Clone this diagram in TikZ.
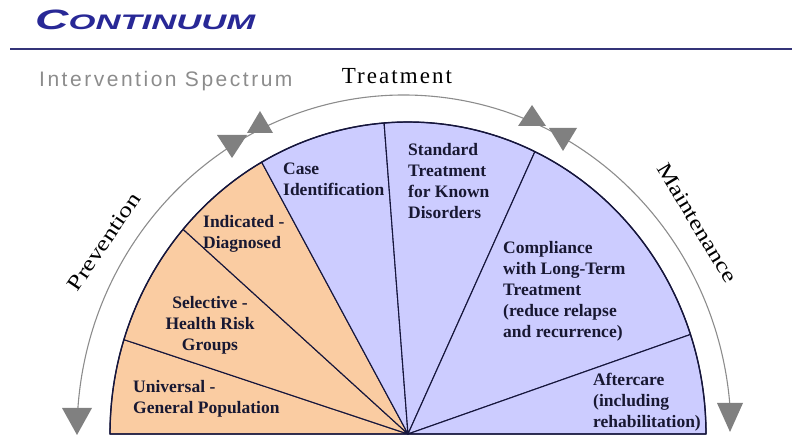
\documentclass[tikz,border=0pt]{standalone}
\usepackage{fontspec}
\setmainfont{Liberation Serif}
\newfontfamily\sansf{Liberation Sans}
\newfontfamily\sansspaced[LetterSpace=12]{Liberation Sans}
\newfontfamily\serifspaced[LetterSpace=9]{Liberation Serif}
\definecolor{orng}{RGB}{250,204,162}
\definecolor{lav}{RGB}{204,204,255}
\definecolor{outl}{RGB}{22,22,60}
\definecolor{arcgray}{RGB}{140,140,140}
\definecolor{trigray}{RGB}{128,128,128}
\definecolor{titleblue}{RGB}{40,40,150}
\definecolor{rulenavy}{RGB}{52,52,120}
\definecolor{labtext}{RGB}{24,24,50}
\begin{document}
\begin{tikzpicture}[x=1pt,y=1pt,
  sector/.style={draw=outl, line width=1.1pt, line join=round},
  grayarc/.style={draw=arcgray, line width=1.1pt},
  tri/.style={fill=trigray},
  lab/.style={inner sep=0pt, anchor=north west, align=left, text=labtext,
    font=\fontsize{17.5}{21}\selectfont\bfseries},
  arclab/.style={inner sep=0pt, text=black, font=\fontsize{21}{21}\selectfont}]
\useasboundingbox (0,0) rectangle (792,438);
% header
\node[inner sep=0pt, anchor=base west, text=titleblue] (title) at (35,408)
  {\scalebox{1.65}[1]{\sansf\bfseries\itshape\fontsize{28}{28}\selectfont C\fontsize{21}{21}\selectfont ONTINUUM}};
\coordinate (ruleL) at (10,389);
\coordinate (ruleR) at (792,389);
\draw[rulenavy, line width=2.5pt] (ruleL) -- (ruleR);
\node[inner sep=0pt, anchor=base west, text=arcgray] (spectrum) at (39,351)
  {\sansspaced\fontsize{21}{21}\selectfont Intervention Spectrum};
% semicircle sectors
\coordinate (C) at (408,4);
\foreach \a/\b/\c in {180/162.4/orng, 162.4/139/orng, 139/119.4/orng,
  119.4/94.6/lav, 94.6/64.8/lav, 64.8/18.6/lav, 18.6/0/lav}
  \filldraw[sector, fill=\c] (C) -- ++(\a:298 and 312)
    arc[start angle=\a, end angle=\b, x radius=298, y radius=312] -- cycle;
\draw[sector, line width=1.4pt] (C) ++(180:298 and 312)
    arc[start angle=180, end angle=0, x radius=298, y radius=312] -- cycle;
% outer gray arc
\coordinate (G) at (404,5);
\draw[grayarc] (G) ++(175.8:327 and 338)
  arc[start angle=175.8, end angle=5.1, x radius=327, y radius=338];
% arrow triangles
\fill[tri] (62,30) -- (92,30) -- (77,3) -- cycle;
\fill[tri] (717,35) -- (743,35) -- (730,6) -- cycle;
\fill[tri] (217,303) -- (247,303) -- (232,280) -- cycle;
\fill[tri] (247,305) -- (273,305) -- (260,327) -- cycle;
\fill[tri] (518,312) -- (546,312) -- (532,333) -- cycle;
\fill[tri] (549,310) -- (577,310) -- (563,287) -- cycle;
% arc labels
\node[arclab, font=\fontsize{23}{23}\selectfont\serifspaced] (treat) at (397,362) {Treatment};
\node[arclab, rotate=56] (prev) at (104,196) {\scalebox{1.25}[1]{Prevention}};
\node[arclab, rotate=-59] (maint) at (697,215) {\scalebox{1.25}[1]{Maintenance}};
% sector labels
\node[lab] (uni) at (133,58) {Universal -\\General Population};
\node[lab, anchor=north, align=center] (sel) at (210,142) {Selective -\\Health Risk\\Groups};
\node[lab] (ind) at (203,223) {Indicated -\\Diagnosed};
\node[lab] (case) at (283,275) {Case\\Identification};
\node[lab] (std) at (408,295) {Standard\\Treatment\\for Known\\Disorders};
\node[lab] (comp) at (503,197) {Compliance\\with Long-Term\\Treatment\\(reduce relapse\\and recurrence)};
\node[lab] (after) at (593,65) {Aftercare\\(including\\rehabilitation)};
\end{tikzpicture}
\end{document}
